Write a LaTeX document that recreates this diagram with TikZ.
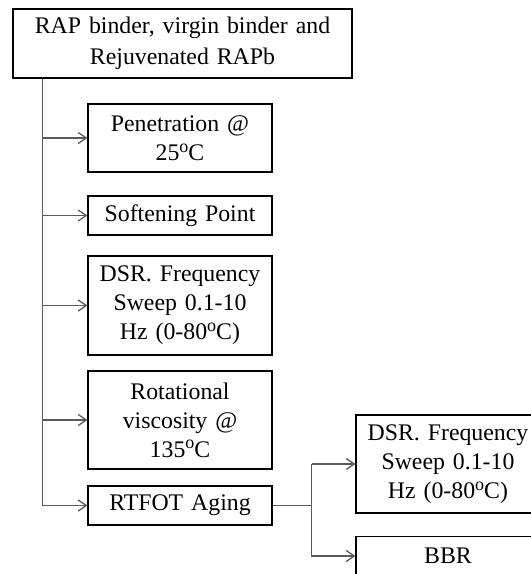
\documentclass[tikz,border=0pt]{standalone}
\usepackage{fontspec}
\setmainfont{Liberation Serif}
\usetikzlibrary{arrows.meta,positioning,calc}
\definecolor{linegray}{HTML}{5A5A5A}
\newcommand{\degsign}{\raisebox{0.75ex}{\fontsize{9}{9}\selectfont o}}
\tikzset{
  testbox/.style={
    draw=black,
    fill=white,
    line width=0.6pt,
    minimum width=92pt,
    text width=90pt,
    align=center,
    inner sep=0pt,
    font=\fontsize{11.9}{14.5}\selectfont
  },
  headbox/.style={testbox, minimum width=169.5pt, text width=167pt, minimum height=34.5pt,
    font=\fontsize{11.9}{15.5}\selectfont},
  link/.style={draw=linegray, line width=0.65pt},
  linkar/.style={link, -{Straight Barb[length=4pt,width=5.5pt]}}
}

\begin{document}
\begin{tikzpicture}[x=0.5pt,y=0.5pt]
  \clip (0,0) rectangle (531,-574);
  \fill[white] (0,0) rectangle (531,-574);

  \node[headbox] (head) at (182.5,-43.5) {RAP binder, virgin binder and\\Rejuvenated RAPb};

  \node[testbox, minimum height=34pt]   (pen)   at (180,-138)   {Penetration @\\25\degsign C};
  \node[testbox, minimum height=19.5pt] (soft)  at (180,-215.5) {Softening Point};
  \node[testbox, minimum height=49.5pt] (dsr)   at (180,-305.5) {DSR. Frequency\\Sweep 0.1-10\\Hz (0-80\degsign C)};
  \node[testbox, minimum height=49pt]   (visc)  at (180,-420)   {Rotational\\viscosity @\\135\degsign C};
  \node[testbox, minimum height=19.5pt] (rtfot) at (180,-505.5) {RTFOT Aging};

  \node[testbox, minimum height=49pt]   (dsrb)  at (448,-464)   {DSR. Frequency\\Sweep 0.1-10\\Hz (0-80\degsign C)};
  \node[testbox, minimum height=19.5pt] (bbr)   at (448,-556)   {BBR};

  % main spine
  \coordinate (spine) at ([xshift=15pt]head.south west);
  \draw[linkar] (spine) |- (rtfot.west);
  \foreach \x in {pen,soft,dsr,visc}
    \draw[linkar] (spine |- \x.west) -- (\x.west);

  % after aging
  \draw[link] (rtfot.east) -- ++(19.5pt,0) coordinate (fork);
  \draw[linkar] (fork |- dsrb.west) -- (dsrb.west);
  \draw[linkar] (fork |- dsrb.west) |- (bbr.west);
\end{tikzpicture}
\end{document}
